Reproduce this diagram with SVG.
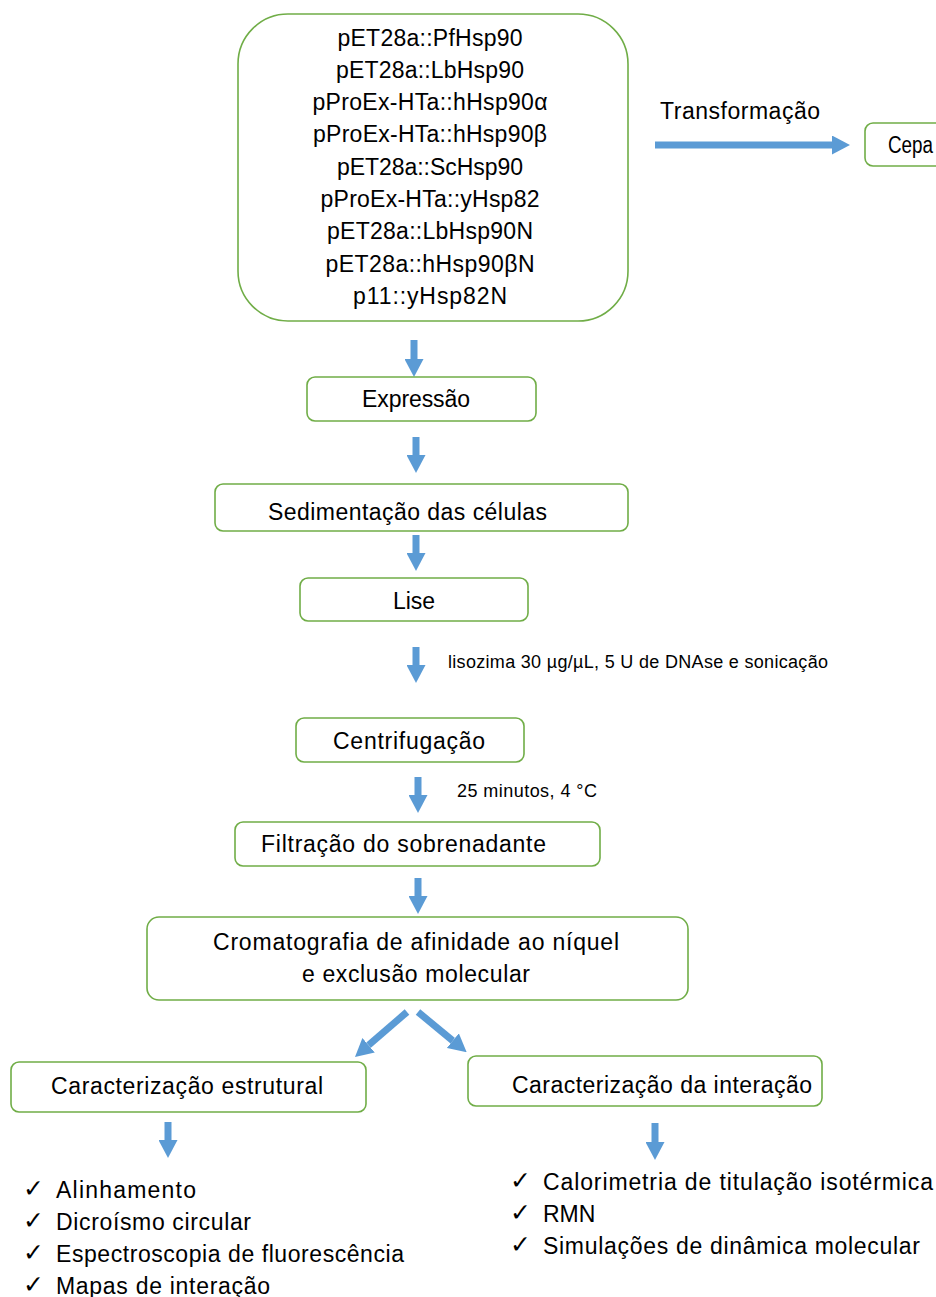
<svg xmlns="http://www.w3.org/2000/svg" width="936" height="1297" viewBox="0 0 936 1297">
<style>
.box{fill:#fff;stroke:#70AD47;stroke-width:1.6}
.t{font-family:"Liberation Sans",Arial,sans-serif;font-size:23px;fill:#000}
.s{font-family:"Liberation Sans",Arial,sans-serif;font-size:18px;fill:#000}
.c{text-anchor:middle}
.ck{font-family:"DejaVu Sans",sans-serif;font-size:25px;fill:#000}
.ar{stroke:#5B9BD5;stroke-width:7;fill:none;marker-end:url(#ah)}
</style>
<defs>
<marker id="ah" markerUnits="userSpaceOnUse" markerWidth="18" markerHeight="19" viewBox="0 0 18 19" refX="0" refY="9.5" orient="auto">
<path d="M0,0 L18,9.5 L0,19 z" fill="#5B9BD5"/>
</marker>
</defs>
<rect width="936" height="1297" fill="#fff"/>
<g id="connectors">
<line class="ar" x1="655" y1="145" x2="832" y2="145"/>
<line class="ar" x1="414" y1="340" x2="414" y2="359"/>
<line class="ar" x1="416" y1="437" x2="416" y2="455"/>
<line class="ar" x1="416" y1="535" x2="416" y2="553"/>
<line class="ar" x1="416" y1="647" x2="416" y2="665"/>
<line class="ar" x1="418" y1="777" x2="418" y2="795"/>
<line class="ar" x1="418" y1="878" x2="418" y2="896"/>
<line class="ar" x1="407" y1="1012" x2="368.6" y2="1045.2"/>
<line class="ar" x1="418" y1="1012" x2="452.8" y2="1040.7"/>
<line class="ar" x1="168" y1="1122" x2="168" y2="1140"/>
<line class="ar" x1="655" y1="1123" x2="655" y2="1142"/>
</g>
<g id="plasmids">
<rect class="box" x="238" y="14" width="390" height="307" rx="50"/>
<text class="t c" x="430" y="46" textLength="185">pET28a::PfHsp90</text>
<text class="t c" x="430" y="78" textLength="188">pET28a::LbHsp90</text>
<text class="t c" x="430" y="110" textLength="235">pProEx-HTa::hHsp90α</text>
<text class="t c" x="430" y="142" textLength="234">pProEx-HTa::hHsp90β</text>
<text class="t c" x="430" y="175" textLength="186">pET28a::ScHsp90</text>
<text class="t c" x="430" y="207" textLength="219">pProEx-HTa::yHsp82</text>
<text class="t c" x="430" y="239" textLength="206">pET28a::LbHsp90N</text>
<text class="t c" x="430" y="272" textLength="209">pET28a::hHsp90βN</text>
<text class="t c" x="430" y="304" textLength="154">p11::yHsp82N</text>
</g>
<g id="transformacao-label">
<text class="t" x="660" y="119" textLength="160">Transformação</text>
</g>
<g id="cepa">
<rect class="box" x="865" y="123" width="90" height="43" rx="8"/>
<text class="t" x="888" y="153" textLength="45" lengthAdjust="spacingAndGlyphs">Cepa</text>
</g>
<g id="expressao">
<rect class="box" x="307" y="377" width="229" height="44" rx="8"/>
<text class="t c" x="416" y="407" textLength="108">Expressão</text>
</g>
<g id="sedimentacao">
<rect class="box" x="215" y="484" width="413" height="47" rx="8"/>
<text class="t" x="268" y="520" textLength="279">Sedimentação das células</text>
</g>
<g id="lise">
<rect class="box" x="300" y="578" width="228" height="43" rx="8"/>
<text class="t c" x="414" y="609">Lise</text>
</g>
<g id="lise-label">
<text class="s" x="448" y="668" textLength="380">lisozima 30 µg/µL, 5 U de DNAse e sonicação</text>
</g>
<g id="centrifugacao">
<rect class="box" x="296" y="718" width="228" height="44" rx="8"/>
<text class="t" x="333" y="749" textLength="152">Centrifugação</text>
</g>
<g id="centrifugacao-label">
<text class="s" x="457" y="797" textLength="140">25 minutos, 4 °C</text>
</g>
<g id="filtracao">
<rect class="box" x="235" y="822" width="365" height="44" rx="8"/>
<text class="t" x="261" y="852" textLength="285">Filtração do sobrenadante</text>
</g>
<g id="cromatografia">
<rect class="box" x="147" y="917" width="541" height="83" rx="12"/>
<text class="t" x="213" y="950" textLength="406">Cromatografia de afinidade ao níquel</text>
<text class="t" x="302" y="982" textLength="228">e exclusão molecular</text>
</g>
<g id="estrutural">
<rect class="box" x="11" y="1062" width="355" height="50" rx="8"/>
<text class="t" x="51" y="1094" textLength="272">Caracterização estrutural</text>
</g>
<g id="interacao">
<rect class="box" x="468" y="1056" width="354" height="50" rx="8"/>
<text class="t" x="512" y="1093" textLength="300">Caracterização da interação</text>
</g>
<g id="lista-estrutural">
<text class="ck" x="23" y="1197">✓</text>
<text class="t" x="56" y="1198" textLength="140">Alinhamento</text>
<text class="ck" x="23" y="1229">✓</text>
<text class="t" x="56" y="1230" textLength="195">Dicroísmo circular</text>
<text class="ck" x="23" y="1261">✓</text>
<text class="t" x="56" y="1262" textLength="348">Espectroscopia de fluorescência</text>
<text class="ck" x="23" y="1293">✓</text>
<text class="t" x="56" y="1294" textLength="214">Mapas de interação</text>
</g>
<g id="lista-interacao">
<text class="ck" x="510" y="1189">✓</text>
<text class="t" x="543" y="1190" textLength="390">Calorimetria de titulação isotérmica</text>
<text class="ck" x="510" y="1221">✓</text>
<text class="t" x="543" y="1222">RMN</text>
<text class="ck" x="510" y="1253">✓</text>
<text class="t" x="543" y="1254" textLength="377">Simulações de dinâmica molecular</text>
</g>
</svg>
